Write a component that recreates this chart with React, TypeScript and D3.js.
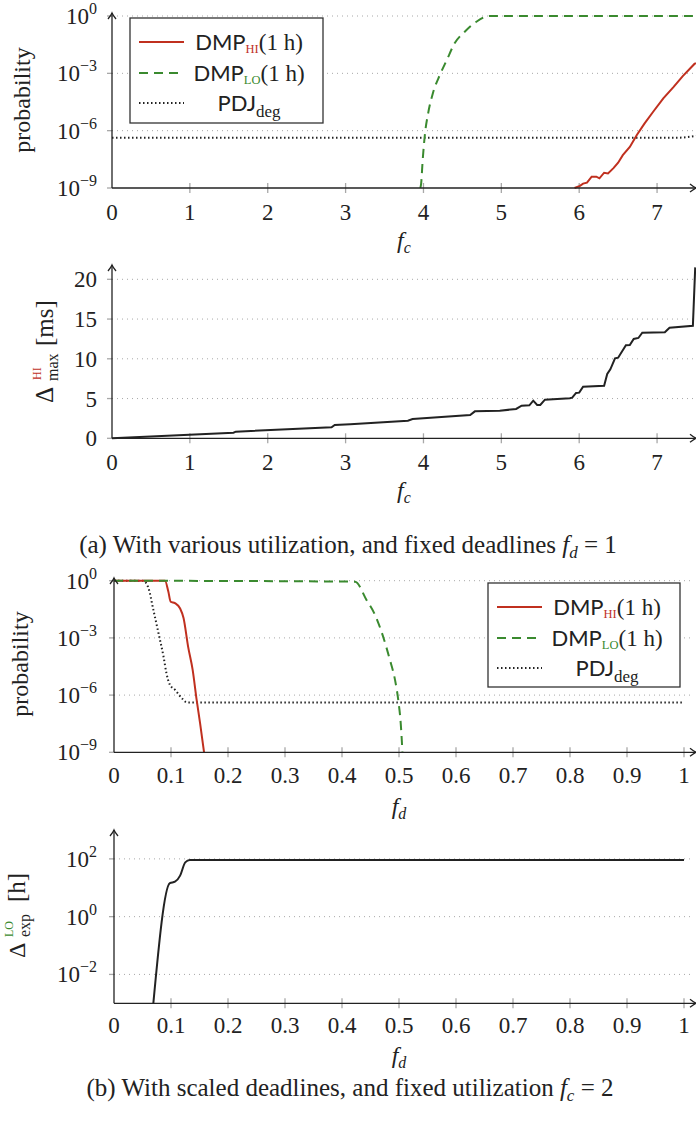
import React from "react";
import * as d3 from "d3";

// ---------- data ----------
const fcTicks = [0, 1, 2, 3, 4, 5, 6, 7];
const fdTicks = [0, 0.1, 0.2, 0.3, 0.4, 0.5, 0.6, 0.7, 0.8, 0.9, 1];
const fdTickLabels = ["0", "0.1", "0.2", "0.3", "0.4", "0.5", "0.6", "0.7", "0.8", "0.9", "1"];
const probTicks = [1e-9, 1e-6, 1e-3, 1];
const probTickExp = ["−9", "−6", "−3", "0"];
const deltaMaxTicks = [0, 5, 10, 15, 20];
const deltaExpTicks = [1e-2, 1, 1e2];
const deltaExpTickExp = ["−2", "0", "2"];

// (a) probability vs f_c
const aHiFc = [5.94, 6.01, 6.05, 6.1, 6.16, 6.22, 6.26, 6.32, 6.37, 6.44, 6.5, 6.56, 6.65, 6.74, 6.84, 6.95, 7.08, 7.21, 7.33, 7.48, 7.5];
const aHiP = [1e-9, 1.3e-9, 1.7e-9, 1.9e-9, 3.9e-9, 3.9e-9, 3.2e-9, 6.3e-9, 5.8e-9, 1.1e-8, 2.1e-8, 5.2e-8, 1.4e-7, 5.9e-7, 2.4e-6, 9.8e-6, 4.9e-5, 1.9e-4, 7.2e-4, 3.1e-3, 3.4e-3];
const aLoFc = [3.96, 3.97, 3.99, 4.02, 4.06, 4.12, 4.21, 4.3, 4.4, 4.53, 4.68, 4.85, 5.5, 6.5, 7.5];
const aLoP = [1e-9, 1.7e-9, 2.9e-8, 7.2e-7, 8.1e-6, 8.9e-5, 8.1e-4, 5.0e-3, 3.7e-2, 0.15, 0.5, 1, 1, 1, 1];
const aPdjFc = [0, 7.27, 7.5];
const aPdjP = [4.3e-7, 4.3e-7, 5.3e-7];

// (a) Delta_max^HI [ms] vs f_c
const aDeltaFc = [0, 1.56, 1.59, 2.82, 2.86, 3.06, 3.8, 3.86, 4.6, 4.66, 4.98, 5.19, 5.26, 5.36, 5.41, 5.46, 5.5, 5.56, 5.88, 5.91, 5.96, 6.0, 6.05, 6.32, 6.36, 6.4, 6.46, 6.5, 6.6, 6.65, 6.7, 6.76, 6.81, 7.1, 7.16, 7.46, 7.49];
const aDeltaMs = [0, 0.7, 0.83, 1.38, 1.67, 1.76, 2.22, 2.43, 2.93, 3.39, 3.47, 3.69, 4.11, 4.15, 4.73, 4.19, 4.19, 4.86, 5.03, 5.11, 5.7, 5.74, 6.49, 6.62, 8.09, 8.68, 10.06, 10.14, 11.7, 11.74, 12.49, 12.62, 13.28, 13.33, 13.91, 14.16, 21.5];

// (b) probability vs f_d
const bHiFd = [0, 0.0895, 0.0953, 0.0994, 0.107, 0.116, 0.122, 0.13, 0.138, 0.145, 0.151, 0.158];
const bHiP = [1, 1, 0.27, 0.079, 0.066, 0.035, 0.011, 3.5e-4, 2.1e-5, 5.6e-7, 3.4e-8, 1e-9];
const bLoFd = [0, 0.423, 0.443, 0.458, 0.472, 0.484, 0.493, 0.499, 0.503, 0.506];
const bLoP = [1, 0.89, 0.098, 0.016, 1.2e-3, 7.1e-5, 6.3e-6, 4.7e-7, 3.4e-8, 1.1e-9];
const bPdjFd = [0, 0.051, 0.06, 0.069, 0.078, 0.087, 0.092, 0.098, 0.107, 0.119, 0.128, 0.2, 1.0];
const bPdjP = [1, 1, 0.45, 0.03, 1.8e-3, 1.0e-4, 1.4e-5, 3.5e-6, 1.9e-6, 6.9e-7, 4.1e-7, 4.1e-7, 4.1e-7];

// (b) Delta_exp^LO [h] vs f_d
const bDeltaFd = [0.069, 0.098, 0.107, 0.116, 0.125, 0.133, 1.0];
const bDeltaH = [1e-3, 14.5, 16.2, 26.3, 75.9, 91.2, 91.2];

// ---------- style ----------
const RED = "#c0301f";
const GREEN = "#3a8a2f";
const INK = "#222";
const GRID = "#a8a8a8";
const SERIF = "'Liberation Serif', 'DejaVu Serif', serif";
const SANS = "Lato, 'Open Sans', sans-serif";

const zip = (xs: number[], ys: number[]) => xs.map((x, i) => [x, ys[i]] as [number, number]);

type Sx = d3.ScaleLinear<number, number>;
type Sy = d3.ScaleLinear<number, number> | d3.ScaleLogarithmic<number, number>;

function Arrows({ x0, y0, xEnd, yEnd }: { x0: number; y0: number; xEnd: number; yEnd: number }) {
  return (
    <g stroke={INK} fill="none" strokeWidth={1.3}>
      <line x1={x0} y1={y0} x2={xEnd} y2={y0} />
      <line x1={x0} y1={y0} x2={x0} y2={yEnd} />
      <path d={`M${xEnd - 6},${y0 - 4} Q${xEnd - 2},${y0 - 0.8} ${xEnd},${y0} Q${xEnd - 2},${y0 + 0.8} ${xEnd - 6},${y0 + 4}`} />
      <path d={`M${x0 - 4},${yEnd + 6} Q${x0 - 0.8},${yEnd + 2} ${x0},${yEnd} Q${x0 + 0.8},${yEnd + 2} ${x0 + 4},${yEnd + 6}`} />
    </g>
  );
}

function XTicks({ x, ticks, labels, y0, labelY }: { x: Sx; ticks: number[]; labels: string[]; y0: number; labelY: number }) {
  return (
    <g>
      {ticks.map((t, i) => (
        <g key={i}>
          {t !== 0 && <line x1={x(t)} x2={x(t)} y1={y0 - 5} y2={y0 + 5} stroke={GRID} strokeWidth={1.3} />}
          <text x={x(t)} y={labelY} textAnchor="middle" fontFamily={SERIF} fontSize={23} fill={INK}>
            {labels[i]}
          </text>
        </g>
      ))}
    </g>
  );
}

function YGrid({ y, ticks, x0, x1, labels, exps, skipBottom }: { y: Sy; ticks: number[]; x0: number; x1: number; labels: string[]; exps?: string[]; skipBottom?: boolean }) {
  return (
    <g>
      {ticks.map((t, i) => (
        <g key={i}>
          {!(skipBottom && i === 0) && (
            <line x1={x0} x2={x1} y1={y(t)} y2={y(t)} stroke={GRID} strokeWidth={1} strokeDasharray="1,4" />
          )}
          <line x1={x0 - 5} x2={x0} y1={y(t)} y2={y(t)} stroke={GRID} strokeWidth={1.3} />
          <text x={97} y={y(t) + 8} textAnchor="end" fontFamily={SERIF} fontSize={23} fill={INK}>
            {labels[i]}
            {exps && (
              <tspan dy={-10} fontSize={16}>
                {exps[i]}
              </tspan>
            )}
          </text>
        </g>
      ))}
    </g>
  );
}

function XLabel({ cx, cy, sub }: { cx: number; cy: number; sub: string }) {
  return (
    <text x={cx} y={cy + 6} textAnchor="middle" fontFamily={SERIF} fontSize={24} fill={INK}>
      <tspan fontStyle="italic">f</tspan>
      <tspan dy={5} fontSize={16} fontStyle="italic">
        {sub}
      </tspan>
    </text>
  );
}

function ProbLabel({ cx, cy }: { cx: number; cy: number }) {
  return (
    <text transform={`translate(${cx},${cy}) rotate(-90)`} textAnchor="middle" dominantBaseline="central" fontFamily={SERIF} fontSize={24} fill={INK}>
      probability
    </text>
  );
}

function Legend({ x, y, w, h }: { x: number; y: number; w: number; h: number }) {
  const rows = [y + 24, y + 55, y + 85];
  const sx0 = x + 9;
  const sx1 = x + 54;
  const tc = x + 119;
  return (
    <g>
      <rect x={x} y={y} width={w} height={h} fill="white" stroke="#333" strokeWidth={1.3} />
      <line x1={sx0} x2={sx1} y1={rows[0]} y2={rows[0]} stroke={RED} strokeWidth={2} />
      <line x1={sx0} x2={sx1} y1={rows[1]} y2={rows[1]} stroke={GREEN} strokeWidth={2} strokeDasharray="9,6" />
      <line x1={sx0} x2={sx1} y1={rows[2]} y2={rows[2]} stroke={INK} strokeWidth={2} strokeDasharray="1.5,2.5" />
      <text x={tc} y={rows[0] + 8} textAnchor="middle" fontFamily={SANS} fontSize={22} fill={INK}>
        DMP
        <tspan dy={3} fontSize={12.5} fill={RED} fontFamily={SERIF}>HI</tspan>
        <tspan dy={-3} fontFamily={SERIF} fontSize={23}>(1 h)</tspan>
      </text>
      <text x={tc} y={rows[1] + 8} textAnchor="middle" fontFamily={SANS} fontSize={22} fill={INK}>
        DMP
        <tspan dy={3} fontSize={12.5} fill={GREEN} fontFamily={SERIF}>LO</tspan>
        <tspan dy={-3} fontFamily={SERIF} fontSize={23}>(1 h)</tspan>
      </text>
      <text x={tc} y={rows[2] + 8} textAnchor="middle" fontFamily={SANS} fontSize={22} fill={INK}>
        PDJ
        <tspan dy={6} fontFamily={SERIF} fontSize={17}>deg</tspan>
      </text>
    </g>
  );
}

export default function App() {
  // panel geometry
  const xA = d3.scaleLinear().domain([0, 7.5]).range([112, 696]);
  const yA1 = d3.scaleLog().domain([1e-9, 1]).range([188, 16]);
  const yA2 = d3.scaleLinear().domain([0, 20]).range([438.3, 279.3]);
  const xB = d3.scaleLinear().domain([0, 1]).range([114, 684]);
  const yB1 = d3.scaleLog().domain([1e-9, 1]).range([752.3, 580.7]);
  const yB2 = d3.scaleLog().domain([1e-3, 1e3]).range([1003.3, 830]);

  const mk = (x: Sx, y: Sy, curve: d3.CurveFactory) =>
    d3
      .line<[number, number]>()
      .x((d) => x(d[0]))
      .y((d) => y(d[1]))
      .curve(curve);

  const lineA1 = mk(xA, yA1, d3.curveLinear);
  const lineA1s = mk(xA, yA1, d3.curveMonotoneX);
  const lineA2 = mk(xA, yA2, d3.curveLinear);
  const lineB1 = mk(xB, yB1, d3.curveMonotoneX);
  const lineB2 = mk(xB, yB2, d3.curveMonotoneX);

  const fcLabels = fcTicks.map(String);

  return (
    <svg width={696} height={1122} viewBox="0 0 696 1122" style={{ display: "block", position: "absolute", left: 0, top: 0 }}>
      <rect width={696} height={1122} fill="white" />
      <defs>
        <clipPath id="clipA1">
          <rect x={112} y={10} width={584} height={180} />
        </clipPath>
        <clipPath id="clipA2">
          <rect x={112} y={262} width={584} height={178} />
        </clipPath>
        <clipPath id="clipB1">
          <rect x={114} y={576} width={582} height={178} />
        </clipPath>
        <clipPath id="clipB2">
          <rect x={114} y={826} width={582} height={178} />
        </clipPath>
      </defs>

      {/* (a) top: probabilities */}
      <YGrid y={yA1} ticks={probTicks} x0={112} x1={695} labels={["10", "10", "10", "10"]} exps={probTickExp} skipBottom />
      <XTicks x={xA} ticks={fcTicks} labels={fcLabels} y0={188} labelY={220} />
      <g clipPath="url(#clipA1)" fill="none">
        <path d={lineA1s(zip(aPdjFc, aPdjP)) || ""} stroke={INK} strokeWidth={2} strokeDasharray="1.5,2.5" />
        <path d={lineA1s(zip(aLoFc, aLoP)) || ""} stroke={GREEN} strokeWidth={2} strokeDasharray="9,6" />
        <path d={lineA1(zip(aHiFc, aHiP)) || ""} stroke={RED} strokeWidth={2} />
      </g>
      <Arrows x0={112} y0={188} xEnd={696} yEnd={13} />
      <Legend x={130} y={18} w={193} h={105} />
      <ProbLabel cx={22} cy={100} />
      <XLabel cx={404} cy={242} sub="c" />

      {/* (a) bottom: Delta_max^HI */}
      <YGrid y={yA2} ticks={deltaMaxTicks} x0={112} x1={695} labels={deltaMaxTicks.map(String)} skipBottom />
      <XTicks x={xA} ticks={fcTicks} labels={fcLabels} y0={438.3} labelY={470} />
      <g clipPath="url(#clipA2)" fill="none">
        <path d={lineA2(zip(aDeltaFc, aDeltaMs)) || ""} stroke={INK} strokeWidth={2} />
      </g>
      <Arrows x0={112} y0={438.3} xEnd={696} yEnd={265} />
      <g transform="translate(53,403) rotate(-90)" fontFamily={SERIF} fill={INK}>
        <text x={0} y={0} fontSize={25}>Δ</text>
        <text x={22} y={5} fontSize={16}>max</text>
        <text x={23} y={-12} fontSize={12} fill={RED}>HI</text>
        <text x={57} y={0} fontSize={25}>[ms]</text>
      </g>
      <XLabel cx={404} cy={492} sub="c" />

      {/* caption (a) */}
      <text x={348} y={553} textAnchor="middle" fontFamily={SERIF} fontSize={25} fill={INK}>
        (a) With various utilization, and fixed deadlines{" "}
        <tspan fontStyle="italic">f</tspan>
        <tspan dy={5} fontSize={17} fontStyle="italic">d</tspan>
        <tspan dy={-5}> = 1</tspan>
      </text>

      {/* (b) top: probabilities */}
      <YGrid y={yB1} ticks={probTicks} x0={114} x1={693} labels={["10", "10", "10", "10"]} exps={probTickExp} skipBottom />
      <XTicks x={xB} ticks={fdTicks} labels={fdTickLabels} y0={752.3} labelY={783} />
      <g clipPath="url(#clipB1)" fill="none">
        <path d={lineB1(zip(bPdjFd, bPdjP)) || ""} stroke={INK} strokeWidth={2} strokeDasharray="1.5,2.5" />
        <path d={lineB1(zip(bHiFd, bHiP)) || ""} stroke={RED} strokeWidth={2} />
        <path d={lineB1(zip(bLoFd, bLoP)) || ""} stroke={GREEN} strokeWidth={2} strokeDasharray="9,6" />
      </g>
      <Arrows x0={114} y0={752.3} xEnd={696} yEnd={578} />
      <Legend x={488} y={583} w={192} h={104} />
      <ProbLabel cx={20} cy={664} />
      <XLabel cx={399} cy={808} sub="d" />

      {/* (b) bottom: Delta_exp^LO */}
      <YGrid y={yB2} ticks={deltaExpTicks} x0={114} x1={693} labels={["10", "10", "10"]} exps={deltaExpTickExp} />
      <XTicks x={xB} ticks={fdTicks} labels={fdTickLabels} y0={1003.3} labelY={1033} />
      <g clipPath="url(#clipB2)" fill="none">
        <path d={lineB2(zip(bDeltaFd, bDeltaH)) || ""} stroke={INK} strokeWidth={2} />
      </g>
      <Arrows x0={114} y0={1003.3} xEnd={696} yEnd={830} />
      <g transform="translate(25,958) rotate(-90)" fontFamily={SERIF} fill={INK}>
        <text x={0} y={0} fontSize={24}>Δ</text>
        <text x={21} y={5} fontSize={16}>exp</text>
        <text x={21} y={-12} fontSize={12} fill={GREEN}>LO</text>
        <text x={56} y={0} fontSize={25}>[h]</text>
      </g>
      <XLabel cx={399} cy={1057} sub="d" />

      {/* caption (b) */}
      <text x={350} y={1096} textAnchor="middle" fontFamily={SERIF} fontSize={25} fill={INK}>
        (b) With scaled deadlines, and fixed utilization{" "}
        <tspan fontStyle="italic">f</tspan>
        <tspan dy={5} fontSize={17} fontStyle="italic">c</tspan>
        <tspan dy={-5}> = 2</tspan>
      </text>
    </svg>
  );
}
